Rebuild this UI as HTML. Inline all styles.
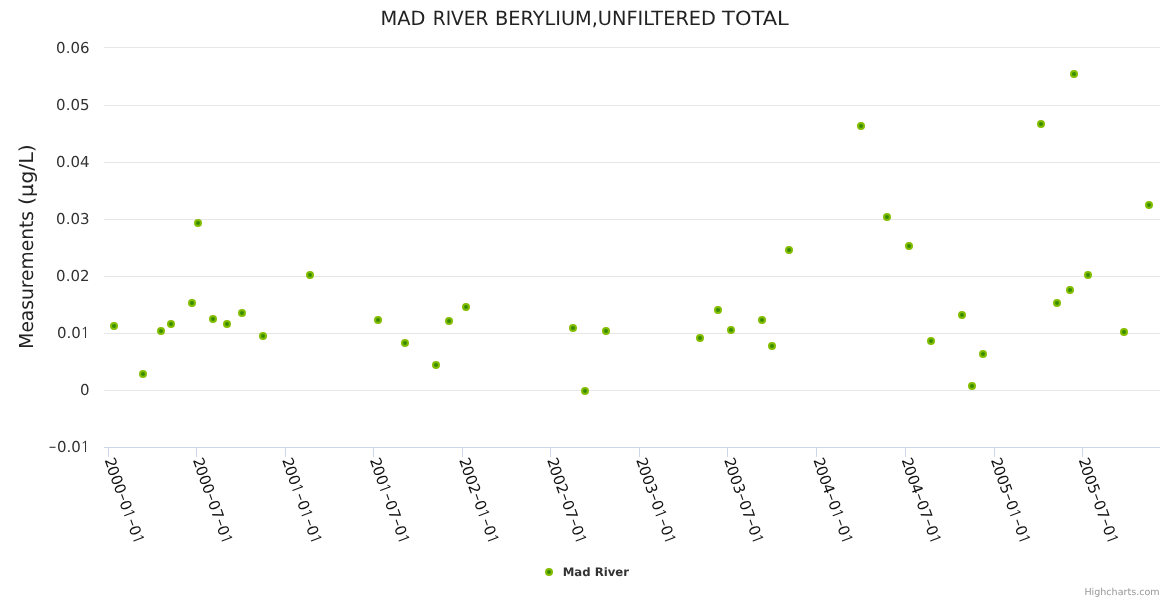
<!DOCTYPE html>
<html><head><meta charset="utf-8"><title>MAD RIVER BERYLIUM,UNFILTERED TOTAL</title>
<style>html,body{margin:0;padding:0;background:#fff;width:1170px;height:600px;overflow:hidden}svg{display:block}text{font-family:"DejaVu Sans", "Liberation Sans", sans-serif;text-rendering:geometricPrecision}</style></head><body>
<svg width="1170" height="600" viewBox="0 0 1170 600">
<rect x="0" y="0" width="1170" height="600" fill="#ffffff"/>
<g shape-rendering="crispEdges" stroke="#e6e6e6" stroke-width="1">
<path d="M104 47.5 H1160"/>
<path d="M104 105.5 H1160"/>
<path d="M104 162.5 H1160"/>
<path d="M104 219.5 H1160"/>
<path d="M104 276.5 H1160"/>
<path d="M104 333.5 H1160"/>
<path d="M104 390.5 H1160"/>
</g>
<g shape-rendering="crispEdges" stroke="#ccd6eb" stroke-width="1">
<path d="M104 447.5 H1160"/>
<path d="M108.5 447 V457"/>
<path d="M196.5 447 V457"/>
<path d="M285.5 447 V457"/>
<path d="M373.5 447 V457"/>
<path d="M462.5 447 V457"/>
<path d="M550.5 447 V457"/>
<path d="M639.5 447 V457"/>
<path d="M727.5 447 V457"/>
<path d="M816.5 447 V457"/>
<path d="M905.5 447 V457"/>
<path d="M994.5 447 V457"/>
<path d="M1082.5 447 V457"/>
</g>
<g fill="#333333" font-size="15" text-anchor="end">
<text transform="translate(89.5 53) scale(1 1)">0.06</text>
<text transform="translate(89.5 110) scale(1 1)">0.05</text>
<text transform="translate(89.5 167) scale(1 1)">0.04</text>
<text transform="translate(89.5 224) scale(1 1)">0.03</text>
<text transform="translate(89.5 281) scale(1 1)">0.02</text>
<text transform="translate(89.5 338) scale(1 1)">0.0<tspan font-family="NanumGothic" dx="-0.50" dy="0.00">1</tspan></text>
<text transform="translate(89.5 395) scale(1 1)">0</text>
<text transform="translate(89.5 452) scale(1 1)"><tspan font-family="IPAGothic" dx="0.00" dy="1.00">-</tspan><tspan dx="0.90" dy="-1.00">0.0</tspan><tspan font-family="NanumGothic" dx="-0.50" dy="0.00">1</tspan></text>
</g>
<g fill="#111111" font-size="15">
<text transform="translate(103.60 459.20) rotate(70) scale(1 1)"><tspan dx="1.10" dy="-0.60">2</tspan><tspan dx="-1.10" dy="0.60">000<tspan font-family="IPAGothic" dx="0.20" dy="0.80">-</tspan><tspan dx="0.20" dy="-0.80">0</tspan><tspan font-family="NanumGothic" dx="-0.50" dy="0.00">1</tspan><tspan font-family="IPAGothic" dx="1.15" dy="0.80">-</tspan><tspan dx="0.20" dy="-0.80">0</tspan><tspan font-family="NanumGothic" dx="-0.50" dy="0.00">1</tspan></tspan></text>
<text transform="translate(191.88 459.20) rotate(70) scale(1 1)"><tspan dx="1.10" dy="-0.60">2</tspan><tspan dx="-1.10" dy="0.60">000<tspan font-family="IPAGothic" dx="0.20" dy="0.80">-</tspan><tspan dx="0.20" dy="-0.80">07</tspan><tspan font-family="IPAGothic" dx="0.20" dy="0.80">-</tspan><tspan dx="0.20" dy="-0.80">0</tspan><tspan font-family="NanumGothic" dx="-0.50" dy="0.00">1</tspan></tspan></text>
<text transform="translate(281.12 459.20) rotate(70) scale(1 1)"><tspan dx="1.10" dy="-0.60">2</tspan><tspan dx="-1.10" dy="0.60">00<tspan font-family="NanumGothic" dx="-0.50" dy="0.00">1</tspan><tspan font-family="IPAGothic" dx="1.15" dy="0.80">-</tspan><tspan dx="0.20" dy="-0.80">0</tspan><tspan font-family="NanumGothic" dx="-0.50" dy="0.00">1</tspan><tspan font-family="IPAGothic" dx="1.15" dy="0.80">-</tspan><tspan dx="0.20" dy="-0.80">0</tspan><tspan font-family="NanumGothic" dx="-0.50" dy="0.00">1</tspan></tspan></text>
<text transform="translate(368.91 459.20) rotate(70) scale(1 1)"><tspan dx="1.10" dy="-0.60">2</tspan><tspan dx="-1.10" dy="0.60">00<tspan font-family="NanumGothic" dx="-0.50" dy="0.00">1</tspan><tspan font-family="IPAGothic" dx="1.15" dy="0.80">-</tspan><tspan dx="0.20" dy="-0.80">07</tspan><tspan font-family="IPAGothic" dx="0.20" dy="0.80">-</tspan><tspan dx="0.20" dy="-0.80">0</tspan><tspan font-family="NanumGothic" dx="-0.50" dy="0.00">1</tspan></tspan></text>
<text transform="translate(458.16 459.20) rotate(70) scale(1 1)"><tspan dx="1.10" dy="-0.60">2</tspan><tspan dx="-1.10" dy="0.60">002<tspan font-family="IPAGothic" dx="0.20" dy="0.80">-</tspan><tspan dx="0.20" dy="-0.80">0</tspan><tspan font-family="NanumGothic" dx="-0.50" dy="0.00">1</tspan><tspan font-family="IPAGothic" dx="1.15" dy="0.80">-</tspan><tspan dx="0.20" dy="-0.80">0</tspan><tspan font-family="NanumGothic" dx="-0.50" dy="0.00">1</tspan></tspan></text>
<text transform="translate(545.95 459.20) rotate(70) scale(1 1)"><tspan dx="1.10" dy="-0.60">2</tspan><tspan dx="-1.10" dy="0.60">002<tspan font-family="IPAGothic" dx="0.20" dy="0.80">-</tspan><tspan dx="0.20" dy="-0.80">07</tspan><tspan font-family="IPAGothic" dx="0.20" dy="0.80">-</tspan><tspan dx="0.20" dy="-0.80">0</tspan><tspan font-family="NanumGothic" dx="-0.50" dy="0.00">1</tspan></tspan></text>
<text transform="translate(635.19 459.20) rotate(70) scale(1 1)"><tspan dx="1.10" dy="-0.60">2</tspan><tspan dx="-1.10" dy="0.60">003<tspan font-family="IPAGothic" dx="0.20" dy="0.80">-</tspan><tspan dx="0.20" dy="-0.80">0</tspan><tspan font-family="NanumGothic" dx="-0.50" dy="0.00">1</tspan><tspan font-family="IPAGothic" dx="1.15" dy="0.80">-</tspan><tspan dx="0.20" dy="-0.80">0</tspan><tspan font-family="NanumGothic" dx="-0.50" dy="0.00">1</tspan></tspan></text>
<text transform="translate(722.98 459.20) rotate(70) scale(1 1)"><tspan dx="1.10" dy="-0.60">2</tspan><tspan dx="-1.10" dy="0.60">003<tspan font-family="IPAGothic" dx="0.20" dy="0.80">-</tspan><tspan dx="0.20" dy="-0.80">07</tspan><tspan font-family="IPAGothic" dx="0.20" dy="0.80">-</tspan><tspan dx="0.20" dy="-0.80">0</tspan><tspan font-family="NanumGothic" dx="-0.50" dy="0.00">1</tspan></tspan></text>
<text transform="translate(812.23 459.20) rotate(70) scale(1 1)"><tspan dx="1.10" dy="-0.60">2</tspan><tspan dx="-1.10" dy="0.60">004<tspan font-family="IPAGothic" dx="0.20" dy="0.80">-</tspan><tspan dx="0.20" dy="-0.80">0</tspan><tspan font-family="NanumGothic" dx="-0.50" dy="0.00">1</tspan><tspan font-family="IPAGothic" dx="1.15" dy="0.80">-</tspan><tspan dx="0.20" dy="-0.80">0</tspan><tspan font-family="NanumGothic" dx="-0.50" dy="0.00">1</tspan></tspan></text>
<text transform="translate(900.50 459.20) rotate(70) scale(1 1)"><tspan dx="1.10" dy="-0.60">2</tspan><tspan dx="-1.10" dy="0.60">004<tspan font-family="IPAGothic" dx="0.20" dy="0.80">-</tspan><tspan dx="0.20" dy="-0.80">07</tspan><tspan font-family="IPAGothic" dx="0.20" dy="0.80">-</tspan><tspan dx="0.20" dy="-0.80">0</tspan><tspan font-family="NanumGothic" dx="-0.50" dy="0.00">1</tspan></tspan></text>
<text transform="translate(989.75 459.20) rotate(70) scale(1 1)"><tspan dx="1.10" dy="-0.60">2</tspan><tspan dx="-1.10" dy="0.60">005<tspan font-family="IPAGothic" dx="0.20" dy="0.80">-</tspan><tspan dx="0.20" dy="-0.80">0</tspan><tspan font-family="NanumGothic" dx="-0.50" dy="0.00">1</tspan><tspan font-family="IPAGothic" dx="1.15" dy="0.80">-</tspan><tspan dx="0.20" dy="-0.80">0</tspan><tspan font-family="NanumGothic" dx="-0.50" dy="0.00">1</tspan></tspan></text>
<text transform="translate(1077.54 459.20) rotate(70) scale(1 1)"><tspan dx="1.10" dy="-0.60">2</tspan><tspan dx="-1.10" dy="0.60">005<tspan font-family="IPAGothic" dx="0.20" dy="0.80">-</tspan><tspan dx="0.20" dy="-0.80">07</tspan><tspan font-family="IPAGothic" dx="0.20" dy="0.80">-</tspan><tspan dx="0.20" dy="-0.80">0</tspan><tspan font-family="NanumGothic" dx="-0.50" dy="0.00">1</tspan></tspan></text>
</g>
<text y="25" fill="#222222" font-size="19.6"><tspan x="380.50" textLength="45.00" lengthAdjust="spacingAndGlyphs">MAD</tspan> <tspan x="432.80" textLength="55.50" lengthAdjust="spacingAndGlyphs">RIVER</tspan> <tspan x="495.00" textLength="220.90" lengthAdjust="spacingAndGlyphs">BERYLIUM,UNFILTERED</tspan> <tspan x="722.10" textLength="66.70" lengthAdjust="spacingAndGlyphs">TOTAL</tspan></text>
<text y="32.7" fill="#222222" font-size="19.2" transform="rotate(-90)"><tspan x="-348.70" textLength="137.70" lengthAdjust="spacingAndGlyphs">Measurements</tspan> <tspan x="-205.10" textLength="60.90" lengthAdjust="spacingAndGlyphs">(µg/L)</tspan></text>
<g fill="#388b00" stroke="#84bd00" stroke-width="2">
<circle cx="114" cy="326" r="3"/>
<circle cx="143" cy="374" r="3"/>
<circle cx="161" cy="331" r="3"/>
<circle cx="171" cy="324" r="3"/>
<circle cx="192" cy="303" r="3"/>
<circle cx="198" cy="223" r="3"/>
<circle cx="213" cy="319" r="3"/>
<circle cx="227" cy="324" r="3"/>
<circle cx="242" cy="313" r="3"/>
<circle cx="263" cy="336" r="3"/>
<circle cx="310" cy="275" r="3"/>
<circle cx="378" cy="320" r="3"/>
<circle cx="405" cy="343" r="3"/>
<circle cx="436" cy="365" r="3"/>
<circle cx="449" cy="321" r="3"/>
<circle cx="466" cy="307" r="3"/>
<circle cx="573" cy="328" r="3"/>
<circle cx="585" cy="391" r="3"/>
<circle cx="606" cy="331" r="3"/>
<circle cx="700" cy="338" r="3"/>
<circle cx="718" cy="310" r="3"/>
<circle cx="731" cy="330" r="3"/>
<circle cx="762" cy="320" r="3"/>
<circle cx="772" cy="346" r="3"/>
<circle cx="789" cy="250" r="3"/>
<circle cx="861" cy="126" r="3"/>
<circle cx="887" cy="217" r="3"/>
<circle cx="909" cy="246" r="3"/>
<circle cx="931" cy="341" r="3"/>
<circle cx="962" cy="315" r="3"/>
<circle cx="972" cy="386" r="3"/>
<circle cx="983" cy="354" r="3"/>
<circle cx="1041" cy="124" r="3"/>
<circle cx="1057" cy="303" r="3"/>
<circle cx="1070" cy="290" r="3"/>
<circle cx="1074" cy="74" r="3"/>
<circle cx="1088" cy="275" r="3"/>
<circle cx="1124" cy="332" r="3"/>
<circle cx="1149" cy="205" r="3"/>
</g>
<circle cx="549" cy="572" r="3" fill="#388b00" stroke="#84bd00" stroke-width="2"/>
<text x="562.7" y="575.6" fill="#333333" font-size="11.7" font-weight="bold">Mad River</text>
<text x="1159.6" y="594.6" text-anchor="end" fill="#999999" font-size="9.55">Highcharts.com</text>
</svg></body></html>
